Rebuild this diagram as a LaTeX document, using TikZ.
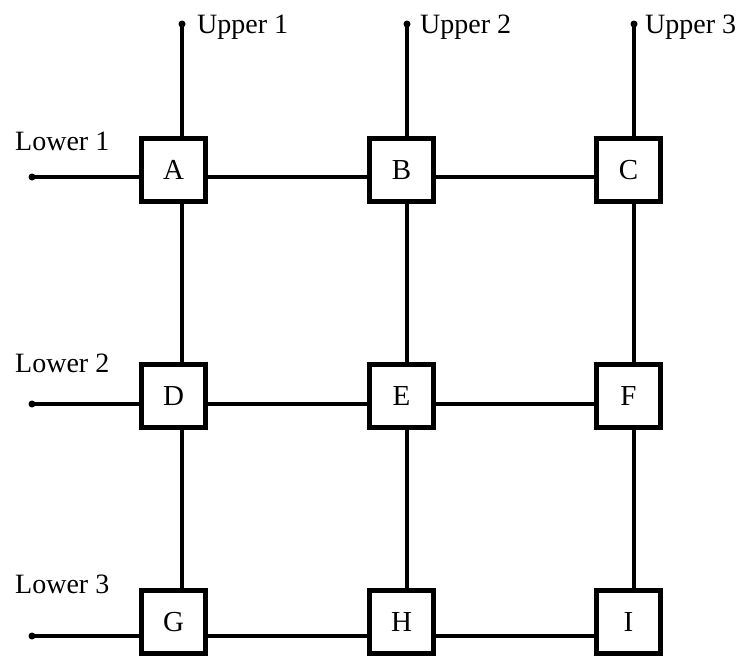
\documentclass[tikz,border=0pt]{standalone}
\usepackage{fontspec}
\setmainfont{Liberation Serif}
\begin{document}
\begin{tikzpicture}[x=1pt,y=-1pt,
  cell/.style={draw, fill=white, line width=5pt, minimum width=64pt, minimum height=63pt,
    inner sep=0pt, font=\fontsize{29}{31}\selectfont},
  wire/.style={line width=4.4pt},
  tag/.style={anchor=base west, inner sep=0pt, font=\fontsize{28}{30}\selectfont},
  enddot/.style={fill, circle, inner sep=0pt, minimum size=7pt}]
\useasboundingbox (0,0) rectangle (743,656);

% wire tracks: vertical columns and horizontal rows
\coordinate (v1) at (182,0);
\coordinate (v2) at (407,0);
\coordinate (v3) at (634,0);
\coordinate (h1) at (0,177);
\coordinate (h2) at (0,404);
\coordinate (h3) at (0,636);

% free ends of the upper and lower wires
\coordinate (U1) at (182,24);
\coordinate (U2) at (407,24);
\coordinate (U3) at (634,24);
\coordinate (L1) at (32,177);
\coordinate (L2) at (32,404);
\coordinate (L3) at (32,636);

% the nine cells
\node[cell] (A) at (173.5,170) {A};
\node[cell] (B) at (401.5,170) {B};
\node[cell] (C) at (628.5,170) {C};
\node[cell] (D) at (173.5,396) {D};
\node[cell] (E) at (401.5,396) {E};
\node[cell] (F) at (628.5,396) {F};
\node[cell] (G) at (173.5,622) {G};
\node[cell] (H) at (401.5,622) {H};
\node[cell] (I) at (628.5,622) {I};

% vertical wires
\draw[wire] (U1) -- (A.north -| v1);
\draw[wire] (A.south -| v1) -- (D.north -| v1);
\draw[wire] (D.south -| v1) -- (G.north -| v1);
\draw[wire] (U2) -- (B.north -| v2);
\draw[wire] (B.south -| v2) -- (E.north -| v2);
\draw[wire] (E.south -| v2) -- (H.north -| v2);
\draw[wire] (U3) -- (C.north -| v3);
\draw[wire] (C.south -| v3) -- (F.north -| v3);
\draw[wire] (F.south -| v3) -- (I.north -| v3);

% horizontal wires
\draw[wire] (L1) -- (A.west |- h1);
\draw[wire] (A.east |- h1) -- (B.west |- h1);
\draw[wire] (B.east |- h1) -- (C.west |- h1);
\draw[wire] (L2) -- (D.west |- h2);
\draw[wire] (D.east |- h2) -- (E.west |- h2);
\draw[wire] (E.east |- h2) -- (F.west |- h2);
\draw[wire] (L3) -- (G.west |- h3);
\draw[wire] (G.east |- h3) -- (H.west |- h3);
\draw[wire] (H.east |- h3) -- (I.west |- h3);

% terminal dots
\foreach \p in {U1,U2,U3,L1,L2,L3} \node[enddot] at (\p) {};

% terminal labels
\node[tag] (tu1) at (197,33) {Upper 1};
\node[tag] (tu2) at (420,33) {Upper 2};
\node[tag] (tu3) at (645,33) {Upper 3};
\node[tag] (tl1) at (15,150) {Lower 1};
\node[tag] (tl2) at (15,372) {Lower 2};
\node[tag] (tl3) at (15,593) {Lower 3};
\end{tikzpicture}
\end{document}
